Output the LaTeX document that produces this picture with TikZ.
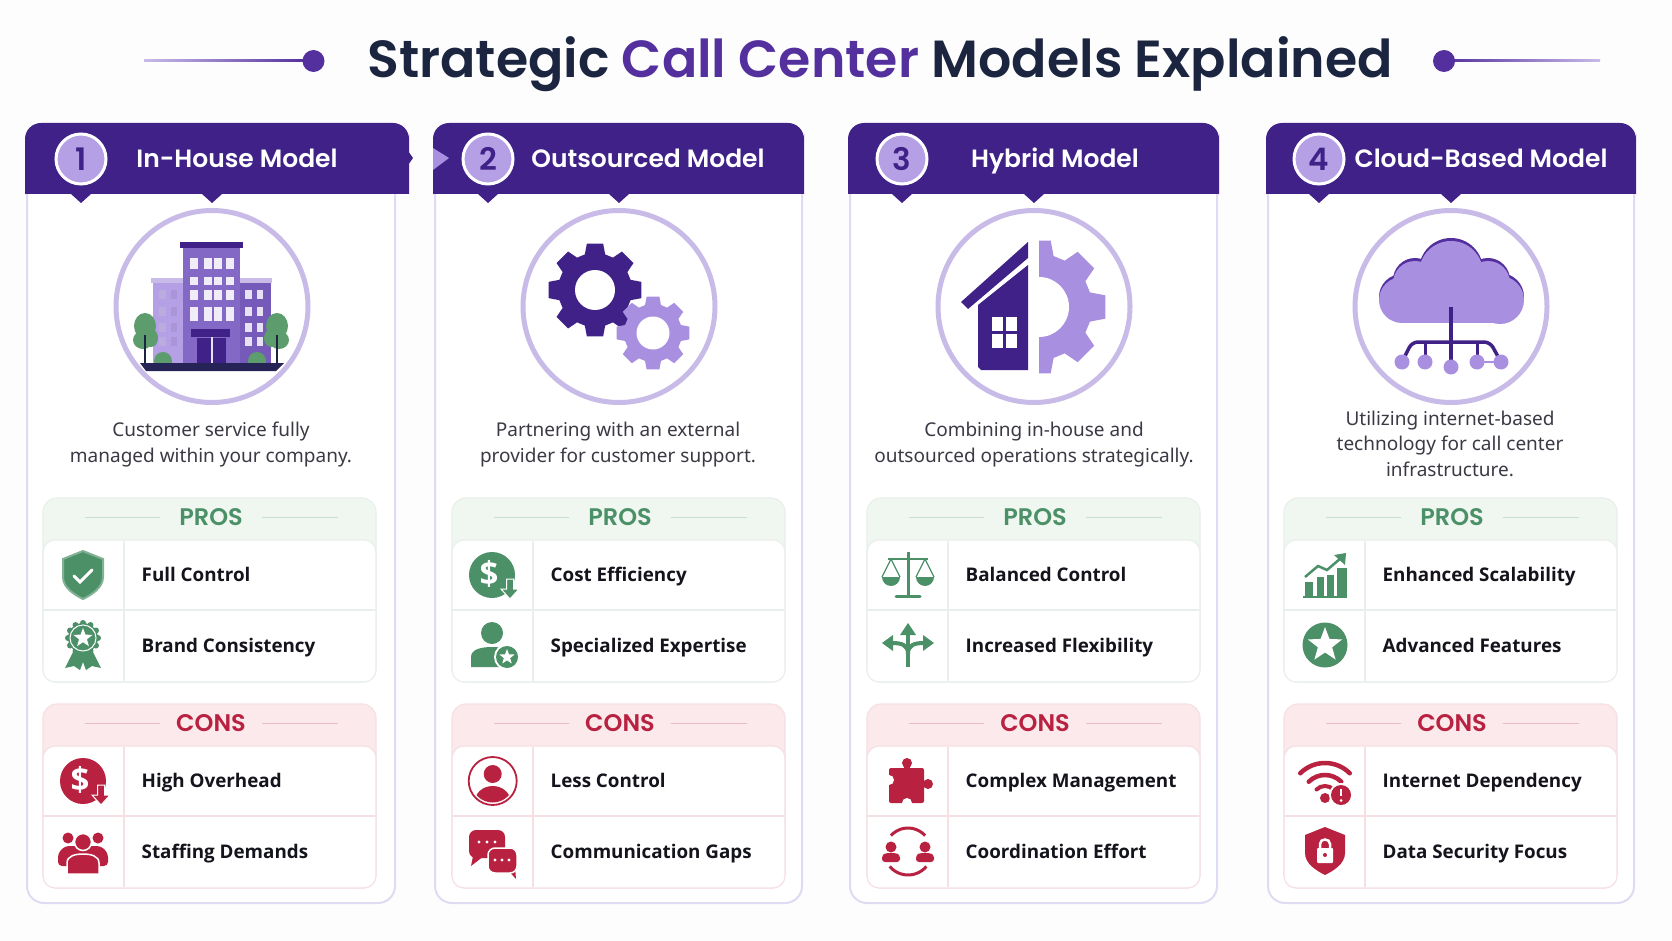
\documentclass[tikz,border=0pt]{standalone}
\usepackage{fontspec}
\usepackage{xcolor}
\usepackage{tikz}
\usetikzlibrary{positioning,shapes.geometric}

\setmainfont{Noto Sans}
\newfontfamily\headfont{Poppins}[BoldFont={Poppins SemiBold}]
\newfontfamily\rowfont{Open Sans}

\definecolor{pagewhite}{HTML}{FDFDFE}
\definecolor{titleink}{HTML}{1B2540}
\definecolor{titlepurple}{HTML}{53309E}
\definecolor{headpurple}{HTML}{3F2188}
\definecolor{ringpurple}{HTML}{C9BBE8}
\definecolor{softpurple}{HTML}{A98FE0}
\definecolor{midpurple}{HTML}{8468C6}
\definecolor{cardline}{HTML}{DFDBF2}
\definecolor{proscolor}{HTML}{4C9068}
\definecolor{prosfill}{HTML}{EFF7F0}
\definecolor{prosline}{HTML}{E9EFEA}
\definecolor{conscolor}{HTML}{B8213F}
\definecolor{consfill}{HTML}{FBE9EB}
\definecolor{consline}{HTML}{F5E0E3}
\definecolor{desctext}{HTML}{3A3A45}
\definecolor{rowink}{HTML}{14141C}
\definecolor{treegreen}{HTML}{5D9C6C}

\tikzset{
    titletext/.style={font=\headfont\bfseries\fontsize{52.2}{58}\selectfont, text=titleink, inner sep=0pt, anchor=base},
    headtext/.style={font=\headfont\bfseries\fontsize{25}{30}\selectfont, text=white, inner sep=0pt, anchor=base},
    badge/.style={circle, draw=white, line width=3pt, fill=softpurple!85!white, minimum size=50pt, inner sep=0pt,
                  font=\headfont\bfseries\fontsize{31}{36}\selectfont, text=headpurple},
    desc/.style={font=\fontsize{19}{25.5}\selectfont, text=desctext, align=center, inner sep=0pt},
    sidetext/.style={font=\headfont\bfseries\fontsize{24}{28}\selectfont, inner sep=0pt},
    rowtext/.style={font=\rowfont\bfseries\fontsize{18.8}{24}\selectfont, text=rowink, inner sep=0pt, anchor=base west},
    ring/.style={draw=ringpurple, line width=5pt, fill=white},
    starmark/.style={star, star points=5, star point ratio=2.4, inner sep=0pt, fill=white},
    dollar/.style={font=\rowfont\bfseries\fontsize{33}{36}\selectfont, text=white, inner sep=0pt}
}

% head band, two notches, body frame
\newcommand{\modelhead}[9]{
    \draw[cardline, line width=2pt, fill=white, rounded corners=17pt]
        (#4,170) -- (#4,903) -- (#5,903) -- (#5,170);
    \fill[headpurple] (#6-10,194) -- (#6,203) -- (#6+10,194) -- cycle;
    \fill[headpurple] (#7-10,194) -- (#7,203) -- (#7+10,194) -- cycle;
    \fill[headpurple, rounded corners=16pt] (#2,194) [sharp corners] -- (#2,150) [rounded corners=16pt] -- (#2,123) -- (#3,123) -- (#3,150) [sharp corners] -- (#3,194) -- cycle;
    \node[badge] (badge#1) at (#6,159) {#1};
    \node[headtext] (head#1) at (#8,168) {#9};
    \draw[ring] (#7,306.5) circle (96);
}

% pros and cons boxes of one card
\newcommand{\sidepanel}[7]{
    \draw[#2line, line width=1.2pt, fill=#2fill, rounded corners=14pt] (#3,#4) rectangle ({#3+333},{#4+184});
    \draw[#2line, line width=1.2pt, fill=white, rounded corners=12pt] (#3,{#4+42}) rectangle ({#3+333},{#4+184});
    \draw[#2line, line width=1.2pt] ({#3+81},{#4+43}) -- ({#3+81},{#4+183});
    \draw[#2line, line width=1.2pt] (#3,{#4+112}) -- ({#3+333},{#4+112});
    \draw[#2color!30!white, line width=1pt] ({#3+42},{#4+19.5}) -- ({#3+117},{#4+19.5});
    \draw[#2color!30!white, line width=1pt] ({#3+219},{#4+19.5}) -- ({#3+295},{#4+19.5});
    \node[sidetext, text=#2color] (#1title) at ({#3+168},{#4+19}) {#5};
    \node[rowtext] (#1a) at ({#3+98.5},{#4+83}) {#6};
    \node[rowtext] (#1b) at ({#3+98.5},{#4+154}) {#7};
}

\newcommand{\shieldpath}{(0,-24) -- (20,-16) -- (20,2) .. controls (20,13) and (8,20) .. (0,24) .. controls (-8,20) and (-20,13) .. (-20,2) -- (-20,-16) -- cycle}

\newcommand{\gearshape}[1]{
    (-16:#1) \foreach \a in {0,45,...,315} {
        -- (\a-10:#1*1.27) -- (\a+10:#1*1.27) -- (\a+16:#1) -- (\a+29:#1)
    } -- cycle
}

\newcommand{\dropmark}[1]{
    \draw[white, line width=1pt, fill=#1] (-3.5,-10) -- (3.5,-10) -- (3.5,0) -- (9,0) -- (0,10) -- (-9,0) -- (-3.5,0) -- cycle;
}

\begin{document}
\begin{tikzpicture}[x=1pt,y=-1pt]
    \fill[pagewhite] (0,0) rectangle (1672,941);
    \useasboundingbox (0,0) rectangle (1672,941);

    % title
    \node[titletext] (title) at (880,78) {Strategic \textcolor{titlepurple}{Call Center} Models Explained};
    \shade[left color=ringpurple, right color=titlepurple] (144,60) rectangle (306,62);
    \fill[titlepurple] (313.5,61) circle (11);
    \shade[left color=titlepurple, right color=ringpurple] (1444,60) rectangle (1600,62);
    \fill[titlepurple] (1444,61) circle (11);

    % the four heads
    \modelhead{1}{25}{409}{27}{395}{81}{212}{237}{In-House Model}
    \modelhead{2}{433}{804}{435}{802}{488}{619}{648}{Outsourced Model}
    \modelhead{3}{848}{1219}{850}{1217}{902}{1034}{1055}{Hybrid Model}
    \modelhead{4}{1266}{1636}{1268}{1634}{1319}{1451}{1481}{Cloud-Based Model}
    \fill[headpurple] (408,151) -- (413,158) -- (408,165) -- cycle;
    \fill[softpurple] (433,148) -- (449,158) -- (433,170) -- cycle;

    % texts under the rings
    \node[desc] (desc1) at (211,444.5) {Customer service fully\\managed within your company.};
    \node[desc] (desc2) at (618,444.5) {Partnering with an external\\provider for customer support.};
    \node[desc] (desc3) at (1034,444.5) {Combining in-house and\\outsourced operations strategically.};
    \node[desc] (desc4) at (1450,443.5) {Utilizing internet-based\\technology for call center\\infrastructure.};

    \sidepanel{pa}{pros}{43}{498}{PROS}{Full Control}{Brand Consistency}
    \sidepanel{ca}{cons}{43}{704}{CONS}{High Overhead}{Staffing Demands}
    \sidepanel{pb}{pros}{452}{498}{PROS}{Cost Efficiency}{Specialized Expertise}
    \sidepanel{cb}{cons}{452}{704}{CONS}{Less Control}{Communication Gaps}
    \sidepanel{pc}{pros}{867}{498}{PROS}{Balanced Control}{Increased Flexibility}
    \sidepanel{cc}{cons}{867}{704}{CONS}{Complex Management}{Coordination Effort}
    \sidepanel{pd}{pros}{1284}{498}{PROS}{Enhanced Scalability}{Advanced Features}
    \sidepanel{cd}{cons}{1284}{704}{CONS}{Internet Dependency}{Data Security Focus}

    % building
    \fill[softpurple!85!white] (153,278) rectangle (183,363);
    \fill[ringpurple] (151,278) rectangle (183,283);
    \fill[midpurple!80!headpurple] (240,278) rectangle (271,363);
    \fill[ringpurple] (240,278) rectangle (272,283);
    \fill[midpurple] (183,248) rectangle (240,363);
    \fill[headpurple] (180,242) rectangle (243,248);
    \foreach \wx in {190,204,214,226} {
        \fill[white!88!midpurple] (\wx,258) rectangle +(8,11);
        \fill[white!88!midpurple] (\wx,277) rectangle +(8,8);
        \fill[white!88!midpurple] (\wx,290) rectangle +(8,10);
        \fill[white!88!midpurple] (\wx,307) rectangle +(8,14);
    }
    \foreach \wy in {290,307,323,337} {
        \fill[white!45!midpurple] (159,\wy) rectangle +(7,9);
        \fill[white!30!midpurple] (171,\wy) rectangle +(6,9);
        \fill[white!80!midpurple] (245,\wy) rectangle +(7,9);
        \fill[white!80!midpurple] (257,\wy) rectangle +(6,9);
    }
    \fill[treegreen] (163,361) circle (9);
    \fill[treegreen] (257,361) circle (9);
    \fill[headpurple] (197,338) rectangle (226,363);
    \fill[headpurple] (191,329) rectangle (230,337);
    \fill[white!80!midpurple] (211,337) rectangle (213,363);
    \fill[treegreen] (145,326) ellipse (11 and 13);
    \fill[treegreen] (143,340) ellipse (10 and 9);
    \fill[treegreen] (151,338) ellipse (7 and 9);
    \fill[treegreen] (277,326) ellipse (11 and 13);
    \fill[treegreen] (279,340) ellipse (10 and 9);
    \fill[treegreen] (271,338) ellipse (7 and 9);
    \draw[titleink, line width=1.5pt] (145,335) -- (145,364);
    \draw[titleink, line width=1.5pt] (277,335) -- (277,364);
    \fill[titleink!70!headpurple] (140,363) -- (284,363) -- (276,371) -- (146,371) -- cycle;

    % gears
    \begin{scope}[shift={(595,290)}]
        \fill[headpurple] \gearshape{37};
        \fill[white] (0,0) circle (20);
    \end{scope}
    \begin{scope}[shift={(653,333)}]
        \fill[softpurple] \gearshape{29};
        \fill[white] (0,0) circle (16.5);
    \end{scope}

    % house and half gear
    \begin{scope}
        \clip (1039,230) rectangle (1120,380);
        \begin{scope}[shift={(1039,307)}]
            \fill[softpurple] \gearshape{53};
            \fill[white] (0,0) circle (30);
        \end{scope}
    \end{scope}
    \fill[headpurple] (978,305) -- (1028,265) -- (1028,370) -- (981,370) -- (978,367) -- cycle;
    \fill[headpurple] (961,302) -- (1028,242) -- (1028,258) -- (968,309) -- cycle;
    \fill[white] (992,317) rectangle (1003,331);
    \fill[white] (1006,317) rectangle (1017,331);
    \fill[white] (992,334) rectangle (1003,348);
    \fill[white] (1006,334) rectangle (1017,348);

    % cloud
    \begin{scope}[shift={(0,-3)}]
        \fill[titlepurple] (1451,273) circle (32);
        \fill[titlepurple] (1415,283) circle (22);
        \fill[titlepurple] (1488,283) circle (22);
        \fill[titlepurple] (1402,300) circle (23);
        \fill[titlepurple] (1500,300) circle (24);
    \end{scope}
    \fill[softpurple] (1451,273) circle (32);
    \fill[softpurple] (1415,283) circle (22);
    \fill[softpurple] (1488,283) circle (22);
    \fill[softpurple] (1402,300) circle (23);
    \fill[softpurple] (1500,300) circle (24);
    \fill[softpurple] (1402,290) rectangle (1500,323);
    \draw[headpurple, line width=3.5pt] (1451,307) -- (1451,366);
    \draw[headpurple, line width=3.5pt, rounded corners=6pt]
        (1402,362) -- (1412,342) -- (1490,342) -- (1501,362);
    \draw[headpurple, line width=3pt] (1425,342) -- (1425,362);
    \draw[headpurple, line width=3pt] (1477,342) -- (1477,362);
    \draw[softpurple, line width=2pt] (1477,362) -- (1501,362);
    \fill[softpurple] (1402,362) circle (7.5);
    \fill[softpurple] (1425,362) circle (7.5);
    \fill[softpurple] (1451,367) circle (7.5);
    \fill[softpurple] (1477,362) circle (7.5);
    \fill[softpurple] (1501,362) circle (7.5);

    % card 1 icons
    \begin{scope}[shift={(83,575)}]
        \draw[proscolor!70!white, line width=2pt, fill=proscolor] \shieldpath;
        \draw[white, line width=3pt, line cap=round] (-9,1) -- (-3,7) -- (9,-5);
    \end{scope}
    \begin{scope}[shift={(83,638)}]
        \fill[proscolor] (-9,12) -- (-18,30) -- (-9,28) -- (-3,32) -- (3,16) -- cycle;
        \fill[proscolor] (9,12) -- (18,30) -- (9,28) -- (3,32) -- (-3,16) -- cycle;
        \foreach \a in {0,30,...,330} { \fill[proscolor] (\a:15) circle (3); }
        \fill[proscolor] (0,0) circle (15);
        \draw[white, line width=1pt] (0,0) circle (13);
        \node[starmark, minimum size=20pt] (stara) at (0,0) {};
    \end{scope}
    \begin{scope}[shift={(83,781)}]
        \fill[conscolor] (0,0) circle (23);
        \node[dollar] (dollara) at (-3,-1) {\$};
        \begin{scope}[shift={(18,14)}]
            \dropmark{conscolor}
        \end{scope}
    \end{scope}
    \begin{scope}[shift={(83,851)}]
        \fill[conscolor] (-15,-13) circle (5.5);
        \fill[conscolor] (15,-13) circle (5.5);
        \fill[conscolor, rounded corners=4pt] (-25,15) -- (-25,2) -- (-18,-5) -- (18,-5) -- (25,2) -- (25,15) -- cycle;
        \draw[white, line width=1.5pt, fill=conscolor] (-16,23) -- (-16,12) .. controls (-16,5) and (-8,3) .. (0,3) .. controls (8,3) and (16,5) .. (16,12) -- (16,23) -- cycle;
        \draw[white, line width=1.5pt, fill=conscolor] (0,-9) circle (8.5);
    \end{scope}

    % card 2 icons
    \begin{scope}[shift={(492,575)}]
        \fill[proscolor] (0,0) circle (23);
        \node[dollar] (dollarb) at (-3,-1) {\$};
        \begin{scope}[shift={(18,14)}]
            \dropmark{proscolor}
        \end{scope}
    \end{scope}
    \begin{scope}[shift={(492,645)}]
        \fill[proscolor] (0,-12) circle (11);
        \fill[proscolor] (-21,22) -- (-21,12) .. controls (-21,4) and (-10,2) .. (0,2) .. controls (10,2) and (21,4) .. (21,12) -- (21,22) -- cycle;
        \fill[white] (15,12) circle (13);
        \fill[proscolor] (15,12) circle (11);
        \node[starmark, minimum size=16pt] (starb) at (15,12) {};
    \end{scope}
    \begin{scope}[shift={(492.7,781)}]
        \draw[conscolor, line width=1.8pt] (0,0) circle (24);
        \fill[conscolor] (0,-7) circle (9);
        \begin{scope}
            \clip (0,0) circle (21.5);
            \fill[conscolor] (0,21) ellipse (18 and 16);
        \end{scope}
    \end{scope}
    \begin{scope}[shift={(493,851)}]
        \fill[conscolor] (-20,5) -- (-22,15) -- (-9,5) -- cycle;
        \fill[conscolor, rounded corners=7pt] (-24,-21) rectangle (12,7);
        \foreach \dx in {-14,-6,2} { \fill[white] (\dx,-9) circle (1.6); }
        \fill[conscolor] (14,18) -- (23,28) -- (22,16) -- cycle;
        \draw[white, line width=1.5pt, fill=conscolor, rounded corners=7pt] (-5,-3) rectangle (24,22);
        \foreach \dx in {2,9,16} { \fill[white] (\dx,9) circle (1.6); }
    \end{scope}

    % card 3 icons
    \begin{scope}[shift={(908,574)}]
        \draw[proscolor, line width=3pt] (0,-22) -- (0,21);
        \draw[proscolor, line width=3pt, line cap=round] (-12,22) -- (12,22);
        \draw[proscolor, line width=2.5pt] (-20,-15) -- (20,-15);
        \draw[proscolor, line width=1.2pt] (-26,3) -- (-17,-15) -- (-8,3);
        \draw[proscolor, line width=1.2pt] (8,3) -- (17,-15) -- (26,3);
        \fill[proscolor] (-26,3) arc [start angle=180, end angle=0, radius=9] -- cycle;
        \fill[proscolor] (8,3) arc [start angle=180, end angle=0, radius=9] -- cycle;
    \end{scope}
    \begin{scope}[shift={(908,645)}]
        \draw[proscolor, line width=4.5pt] (0,22) -- (0,-12);
        \fill[proscolor] (-8,-10) -- (0,-22) -- (8,-10) -- cycle;
        \draw[proscolor, line width=4pt] (0,9) .. controls (0,0) and (-6,-2) .. (-16,-2);
        \draw[proscolor, line width=4pt] (0,9) .. controls (0,0) and (6,-2) .. (16,-2);
        \fill[proscolor] (-15,-10) -- (-26,-2) -- (-15,6) -- cycle;
        \fill[proscolor] (15,-10) -- (26,-2) -- (15,6) -- cycle;
    \end{scope}
    \begin{scope}[shift={(908,781)}]
        \fill[conscolor, rounded corners=2pt] (-19,-13) rectangle (16,22);
        \fill[conscolor] (-1,-18) circle (5);
        \fill[conscolor] (-4,-16) rectangle (2,-12);
        \fill[conscolor] (20,3) circle (5);
        \fill[conscolor] (15,0) rectangle (18,6);
        \fill[white] (-19,-1) circle (5);
        \fill[white] (-1,22) circle (5);
    \end{scope}
    \begin{scope}[shift={(908,851)}]
        \draw[conscolor, line width=3pt] (-138:23) arc [start angle=-138, end angle=-42, radius=23];
        \draw[conscolor, line width=3pt] (40:24) arc [start angle=40, end angle=140, radius=24];
        \foreach \px in {-17,17} {
            \fill[conscolor] (\px,-4) circle (5.5);
            \fill[conscolor, rounded corners=3pt] (\px-9,11) -- (\px-9,4) -- (\px-5,2) -- (\px+5,2) -- (\px+9,4) -- (\px+9,11) -- cycle;
        }
    \end{scope}

    % card 4 icons
    \begin{scope}[shift={(1325,575)}]
        \fill[proscolor] (-20,7) rectangle (-12,21);
        \fill[proscolor] (-8,2) rectangle (-1,21);
        \fill[proscolor] (2,0) rectangle (9,21);
        \fill[proscolor] (12,-7) rectangle (22,21);
        \draw[proscolor, line width=2pt] (-22,22) -- (22,22);
        \draw[proscolor, line width=2.5pt] (-20,2) -- (-7,-9) -- (2,-5) -- (16,-17);
        \fill[proscolor] (21,-22) -- (9,-20) -- (20,-10) -- cycle;
    \end{scope}
    \begin{scope}[shift={(1325,645)}]
        \fill[proscolor] (0,0) circle (22.5);
        \node[starmark, minimum size=36pt] (stard) at (0,0) {};
    \end{scope}
    \begin{scope}[shift={(1325,798)}]
        \fill[conscolor] (0,0) circle (5);
        \draw[conscolor, line width=4.5pt, line cap=round] (-135:35) arc [start angle=-135, end angle=-45, radius=35];
        \draw[conscolor, line width=4.5pt, line cap=round] (-135:23) arc [start angle=-135, end angle=-45, radius=23];
        \draw[conscolor, line width=4pt, line cap=round] (-135:12) arc [start angle=-135, end angle=-45, radius=12];
        \fill[white] (16,-3) circle (12);
        \fill[conscolor] (16,-3) circle (10);
        \draw[white, line width=2.5pt] (16,-9) -- (16,-2);
        \fill[white] (16,2.5) circle (1.5);
    \end{scope}
    \begin{scope}[shift={(1325,851)}]
        \fill[conscolor] \shieldpath;
        \draw[white, line width=2.5pt] (-5,-3) -- (-5,-7) .. controls (-5,-13) and (5,-13) .. (5,-7) -- (5,-3);
        \fill[white, rounded corners=1pt] (-8,-3) rectangle (8,12);
        \fill[conscolor] (0,4) circle (2);
    \end{scope}
\end{tikzpicture}
\end{document}
